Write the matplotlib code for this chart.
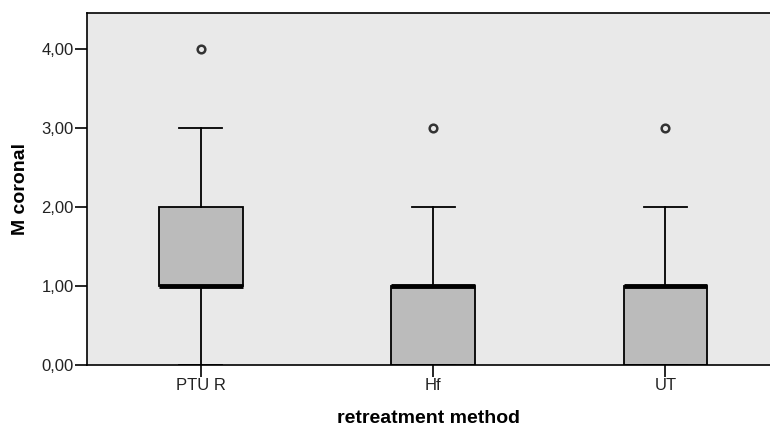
import matplotlib.pyplot as plt

plt.rcParams['font.family'] = ['Liberation Sans', 'DejaVu Sans']

# data
methods = ["PTU R", "Hf", "UT"]
q1 = [1, 0, 0]
medians = [1, 1, 1]
q3 = [2, 1, 1]
whisker_lo = [0, 0, 0]
whisker_hi = [3, 2, 2]
outliers = [[4], [3], [3]]
yticks = [0, 1, 2, 3, 4]

stats = []
for i, name in enumerate(methods):
    stats.append(dict(label=name, q1=q1[i], med=medians[i], q3=q3[i],
                      whislo=whisker_lo[i], whishi=whisker_hi[i],
                      fliers=outliers[i]))

fig = plt.figure(figsize=(7.7, 4.26), dpi=100)
ax = fig.add_axes([0.113, 0.143, 0.887, 0.826])
ax.set_facecolor("#e9e9e9")

ax.bxp(stats, positions=range(len(methods)), widths=0.36,
       patch_artist=True, showfliers=True,
       boxprops=dict(facecolor="#bbbbbb", edgecolor="black", linewidth=1.3),
       medianprops=dict(color="black", linewidth=3.5),
       whiskerprops=dict(color="black", linewidth=1.3),
       capprops=dict(color="black", linewidth=1.3),
       capwidths=0.185,
       flierprops=dict(marker="o", markersize=5.5, markerfacecolor="none",
                       markeredgecolor="#333333", markeredgewidth=1.8))

ax.set_xlim(-0.49, 2.45)
ax.set_ylim(0, 4.45)
ax.set_yticks(yticks)
ax.set_yticklabels([f"{v:.2f}".replace(".", ",") for v in yticks], fontsize=12, color="#222222")
ax.set_xticks(range(len(methods)))
ax.set_xticklabels(methods, fontsize=12, color="#222222")
ax.tick_params(axis="both", direction="out", length=8.5, width=1.2, color="black", pad=1)

for s in ["left", "bottom", "top"]:
    ax.spines[s].set_linewidth(1.2)
ax.spines["right"].set_visible(False)

ax.set_ylabel("M coronal", fontsize=14, fontweight="bold", labelpad=9)
ax.set_xlabel("retreatment method", fontsize=14, fontweight="bold", labelpad=12)

fig.savefig("out.png", dpi=100)
